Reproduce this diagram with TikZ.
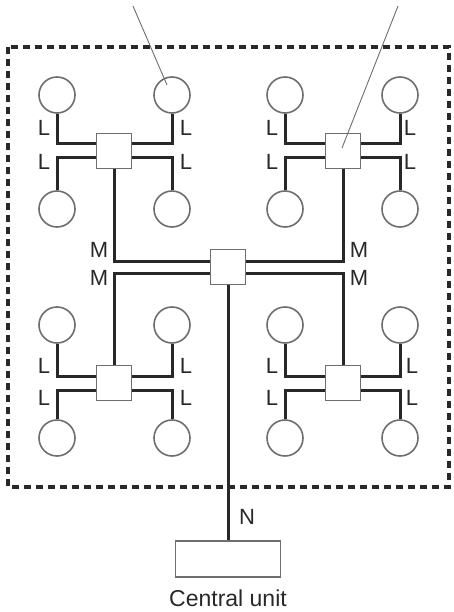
\documentclass[tikz,border=0pt]{standalone}
\usepackage{fontspec}
\setmainfont{Liberation Sans}
\usetikzlibrary{positioning, calc}
\definecolor{inkdark}{RGB}{40,40,40}
\definecolor{inkgrey}{RGB}{110,110,110}

\begin{document}
\begin{tikzpicture}[
  x=1pt, y=-1pt,
  leaf/.style={circle, draw=inkgrey, line width=1.6pt, minimum size=36pt, inner sep=0pt},
  hub/.style={rectangle, draw=inkgrey, line width=1.6pt, minimum size=35pt, inner sep=0pt, fill=white},
  wire/.style={draw=inkdark, line width=3pt},
  leader/.style={draw=inkgrey, line width=0.9pt},
  tag/.style={font=\fontsize{22}{24}\selectfont, text=inkdark, inner sep=0pt}
]
  \useasboundingbox (0,0) rectangle (453,612);

  % boundary
  \draw[inkdark, line width=3.2pt, dash pattern=on 7pt off 5pt] (8,47) rectangle (449,487);

  % hubs
  \node[hub] (hc) at (228,267) {};
  \node[hub] (h1) at (114,151) {};
  \node[hub] (h2) at (343,151) {};
  \node[hub] (h3) at (114,383) {};
  \node[hub] (h4) at (343,383) {};

  % leaves
  \node[leaf] (c11) at (57,95)  {};
  \node[leaf] (c12) at (172,95) {};
  \node[leaf] (c13) at (57,209) {};
  \node[leaf] (c14) at (172,209) {};
  \node[leaf] (c21) at (285,95)  {};
  \node[leaf] (c22) at (400,95)  {};
  \node[leaf] (c23) at (285,209) {};
  \node[leaf] (c24) at (400,209) {};
  \node[leaf] (c31) at (57,325)  {};
  \node[leaf] (c32) at (172,325) {};
  \node[leaf] (c33) at (57,438)  {};
  \node[leaf] (c34) at (172,438) {};
  \node[leaf] (c41) at (285,325) {};
  \node[leaf] (c42) at (400,325) {};
  \node[leaf] (c43) at (285,438) {};
  \node[leaf] (c44) at (400,438) {};

  % central unit
  \node[rectangle, draw=inkgrey, line width=1.6pt, minimum width=105pt, minimum height=36pt] (cu) at (228,559) {};
  \node[tag, font=\fontsize{23}{25}\selectfont, below=12pt of cu] (culabel) {Central unit};

  % L links
  \draw[wire] (c11.south) |- ([yshift=7pt]h1.west);
  \draw[wire] ([yshift=-7pt]h1.west) -| (c13.north);
  \draw[wire] (c12.south) |- ([yshift=7pt]h1.east);
  \draw[wire] ([yshift=-7pt]h1.east) -| (c14.north);
  \draw[wire] (c21.south) |- ([yshift=7pt]h2.west);
  \draw[wire] ([yshift=-7pt]h2.west) -| (c23.north);
  \draw[wire] (c22.south) |- ([yshift=7pt]h2.east);
  \draw[wire] ([yshift=-7pt]h2.east) -| (c24.north);
  \draw[wire] (c31.south) |- ([yshift=7pt]h3.west);
  \draw[wire] ([yshift=-7pt]h3.west) -| (c33.north);
  \draw[wire] (c32.south) |- ([yshift=7pt]h3.east);
  \draw[wire] ([yshift=-7pt]h3.east) -| (c34.north);
  \draw[wire] (c41.south) |- ([yshift=7pt]h4.west);
  \draw[wire] ([yshift=-7pt]h4.west) -| (c43.north);
  \draw[wire] (c42.south) |- ([yshift=7pt]h4.east);
  \draw[wire] ([yshift=-7pt]h4.east) -| (c44.north);

  % M links
  \draw[wire] (h1.south) |- ([yshift=6pt]hc.west);
  \draw[wire] ([yshift=-6pt]hc.west) -| (h3.north);
  \draw[wire] (h2.south) |- ([yshift=6pt]hc.east);
  \draw[wire] ([yshift=-6pt]hc.east) -| (h4.north);

  % N link
  \draw[wire] (hc.south) -- (cu.north);

  % leader lines
  \coordinate (t1) at (133,6);
  \coordinate (p1) at (167,85);
  \coordinate (t2) at (398,6);
  \coordinate (p2) at (342,148);
  \draw[leader] (t1) -- (p1);
  \draw[leader] (t2) -- (p2);

  % labels
  \node[tag] (l11) at (44,128) {L};
  \node[tag] (l13) at (44,162) {L};
  \node[tag] (l12) at (186,128) {L};
  \node[tag] (l14) at (186,162) {L};
  \node[tag] (l21) at (272,128) {L};
  \node[tag] (l23) at (272,162) {L};
  \node[tag] (l22) at (410,128) {L};
  \node[tag] (l24) at (410,162) {L};
  \node[tag] (l31) at (44,366) {L};
  \node[tag] (l33) at (44,398) {L};
  \node[tag] (l32) at (186,366) {L};
  \node[tag] (l34) at (186,398) {L};
  \node[tag] (l41) at (272,366) {L};
  \node[tag] (l43) at (272,398) {L};
  \node[tag] (l42) at (412,366) {L};
  \node[tag] (l44) at (412,398) {L};
  \node[tag] (m1) at (99,250) {M};
  \node[tag] (m3) at (99,278) {M};
  \node[tag] (m2) at (359,250) {M};
  \node[tag] (m4) at (359,278) {M};
  \node[tag] (nlab) at (247,517) {N};
\end{tikzpicture}
\end{document}
